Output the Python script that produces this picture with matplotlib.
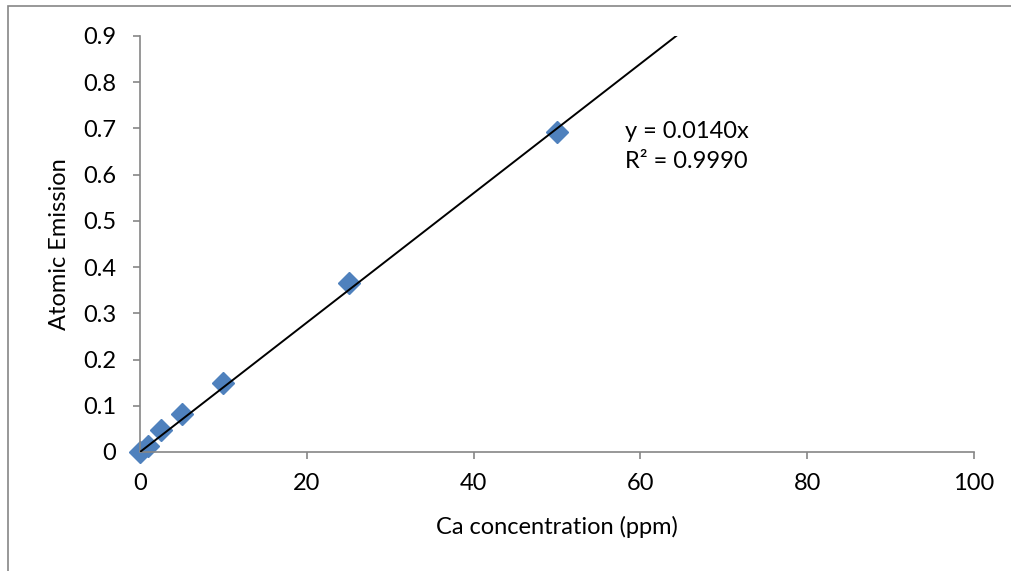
import numpy as np
import matplotlib.pyplot as plt
from matplotlib.patches import Rectangle

# calibration data
conc = [0, 1, 2.5, 5, 10, 25, 50]
emission = [0, 0.013, 0.048, 0.082, 0.149, 0.365, 0.692]
slope = 0.0140
x_ticks = [0, 20, 40, 60, 80, 100]
y_ticks = [0, 0.1, 0.2, 0.3, 0.4, 0.5, 0.6, 0.7, 0.8, 0.9]
y_tick_labels = ["0", "0.1", "0.2", "0.3", "0.4", "0.5", "0.6", "0.7", "0.8", "0.9"]

plt.rcParams["font.family"] = ["Lato", "DejaVu Sans"]

W, H = 1011, 571
fig = plt.figure(figsize=(W / 100, H / 100), dpi=100)
ax = fig.add_axes([140 / W, 1 - 452 / H, 834 / W, 416 / H])

# chart border (gray frame like excel)
fig.add_artist(Rectangle((8 / W, -0.1), 1.2, 1.1 - 6 / H,
                         transform=fig.transFigure, fill=False,
                         edgecolor="#868686", linewidth=1.2))

# trendline through origin
xs = np.array([0, 100])
ax.plot(xs, slope * xs, color="black", lw=1.4, zorder=3)

ax.plot(conc, emission, linestyle="none", marker="D", markersize=11.5,
        color="#4F81BD", zorder=2, clip_on=False)

ax.set_xlim(0, 100)
ax.set_ylim(0, 0.9)
ax.set_xticks(x_ticks)
ax.set_yticks(y_ticks)
ax.set_yticklabels(y_tick_labels)

for s in ["top", "right"]:
    ax.spines[s].set_visible(False)
for s in ["left", "bottom"]:
    ax.spines[s].set_color("#868686")
    ax.spines[s].set_linewidth(1.2)
ax.tick_params(direction="out", length=5, width=1.2, color="#868686",
               labelsize=17, labelcolor="black")
ax.tick_params(axis="x", pad=10)
ax.tick_params(axis="y", pad=12)

fig.text(557 / W, 1 - 527 / H, "Ca concentration (ppm)", fontsize=17,
         ha="center", va="center")
fig.text(60 / W, 1 - 244 / H, "Atomic Emission", fontsize=17,
         ha="center", va="center", rotation=90)

fig.text(625 / W, 1 - 131 / H, "y = 0.0140x", fontsize=17, va="center", ha="left")
fig.text(625 / W, 1 - 161 / H, "R² = 0.9990", fontsize=17, va="center", ha="left")

fig.savefig("out.png", dpi=100)
